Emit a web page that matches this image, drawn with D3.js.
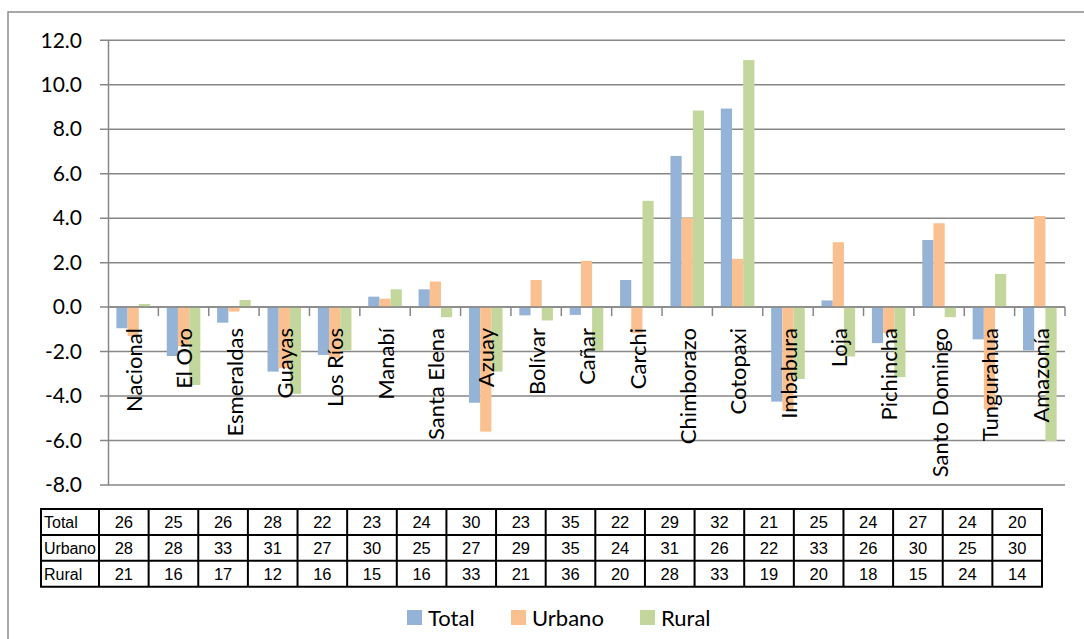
<!DOCTYPE html>
<html><head><meta charset="utf-8">
<script src="https://cdn.jsdelivr.net/npm/d3@7"></script>
<style>body{margin:0;background:#fff}svg{display:block}</style>
</head><body><svg id="c" width="1084" height="639"></svg>
<script>
const categories = ["Nacional","El Oro","Esmeraldas","Guayas","Los Ríos","Manabí","Santa Elena","Azuay","Bolívar","Cañar","Carchi","Chimborazo","Cotopaxi","Imbabura","Loja","Pichincha","Santo Domingo","Tungurahua","Amazonía"];
const seriesNames = ["Total","Urbano","Rural"];
const totalValues  = [-0.95,-2.2,-0.7,-2.9,-2.15,0.47,0.8,-4.3,-0.37,-0.35,1.22,6.8,8.93,-4.25,0.3,-1.62,3.02,-1.45,-1.95];
const urbanoValues = [-1.3,-1.75,-0.2,-2.75,-2.3,0.38,1.15,-5.6,1.22,2.08,-1.17,4.02,2.17,-4.67,2.92,-1.17,3.77,-4.6,4.1];
const ruralValues  = [0.14,-3.5,0.32,-3.9,-1.95,0.8,-0.45,-2.9,-0.6,-1.97,4.78,8.84,11.11,-3.23,-2.22,-3.15,-0.45,1.49,-6.02];
const yTicks = [-8,-6,-4,-2,0,2,4,6,8,10,12];
const tableTotal  = [26,25,26,28,22,23,24,30,23,35,22,29,32,21,25,24,27,24,20];
const tableUrbano = [28,28,33,31,27,30,25,27,29,35,24,31,26,22,33,26,30,25,30];
const tableRural  = [21,16,17,12,16,15,16,33,21,36,20,28,33,19,20,18,15,24,14];
const colors = ["#95B3D7","#FAC090","#C3D69B"];

const svg = d3.select("#c");
const values = [totalValues, urbanoValues, ruralValues];
const L = 108, R = 1065, T = 40.3, B = 485;
const gray = "#878787";

// outer border
svg.append("rect").attr("x",8).attr("y",12).attr("width",1090).attr("height",640)
  .attr("fill","none").attr("stroke","#8c8c8c").attr("stroke-width",1.5);

const x = d3.scaleBand().domain(categories).range([L,R]).paddingInner(0.333).paddingOuter(0.1665);
const x1 = d3.scaleBand().domain(seriesNames).range([0,x.bandwidth()]);
const y = d3.scaleLinear().domain([-8,12]).range([B,T]);

// gridlines
svg.append("g").selectAll("line").data(yTicks).join("line")
  .attr("x1",L-8).attr("x2",R).attr("y1",d=>y(d)).attr("y2",d=>y(d))
  .attr("stroke",gray).attr("stroke-width",1.5);

// y axis
const ya = svg.append("g").attr("transform",`translate(${L},0)`)
  .call(d3.axisLeft(y).tickValues(yTicks).tickFormat(d=>d.toFixed(1)).tickSize(0).tickPadding(26));
ya.select(".domain").attr("stroke",gray).attr("stroke-width",1.5);
ya.selectAll("text").attr("font-family","Lato, sans-serif").attr("font-size",21).attr("fill","#000");

// bars
const gCat = svg.append("g").selectAll("g").data(categories).join("g")
  .attr("transform",d=>`translate(${x(d)},0)`);
gCat.selectAll("rect").data((d,i)=>seriesNames.map((s,k)=>({s,v:values[k][i],k}))).join("rect")
  .attr("x",d=>x1(d.s)).attr("width",x1.bandwidth())
  .attr("y",d=>y(Math.max(0,d.v))).attr("height",d=>Math.abs(y(d.v)-y(0)))
  .attr("fill",d=>colors[d.k]);

// zero axis line with ticks
svg.append("line").attr("x1",L).attr("x2",R).attr("y1",y(0)).attr("y2",y(0))
  .attr("stroke",gray).attr("stroke-width",1.5);
const step = x.step();
const bounds = d3.range(categories.length+1).map(i => i<categories.length ? x(categories[i]) - (step - x.bandwidth())/2 : R);
svg.append("g").selectAll("line").data(bounds.slice(1)).join("line")
  .attr("x1",d=>d).attr("x2",d=>d).attr("y1",y(0)).attr("y2",y(0)+9)
  .attr("stroke",gray).attr("stroke-width",1.5);

// category labels
svg.append("g").selectAll("text").data(categories).join("text")
  .attr("transform",d=>`translate(${x(d)+x.bandwidth()/2+1},328) rotate(-90)`)
  .attr("text-anchor","end").attr("dy","0.35em")
  .attr("font-family","Lato, sans-serif").attr("font-size",22).attr("fill","#000")
  .text(d=>d);

// data table
const tL = 41, tH = 99, tR = 1042, tT = 509, rowH = 25.9;
const tx = d3.scaleBand().domain(categories).range([tH,tR]);
const rows = [["Total",tableTotal],["Urbano",tableUrbano],["Rural",tableRural]];
const tg = svg.append("g");
rows.forEach((r,i)=>{
  const yy = tT + i*rowH;
  tg.append("text").attr("x",tL+3).attr("y",yy+rowH/2).attr("dy","0.36em")
    .attr("font-family","Liberation Sans, Arial, sans-serif").attr("font-size",16).attr("textLength", r[0]==="Urbano"?52:null).text(r[0]);
  tg.selectAll(null).data(r[1]).join("text")
    .attr("x",(d,j)=>tx(categories[j])+tx.bandwidth()/2).attr("y",yy+rowH/2).attr("dy","0.36em")
    .attr("text-anchor","middle")
    .attr("font-family","Liberation Sans, Arial, sans-serif").attr("font-size",16.5).text(d=>d);
});
d3.range(4).forEach(i=>{
  tg.append("line").attr("x1",tL-1).attr("x2",tR+1).attr("y1",tT+i*rowH).attr("y2",tT+i*rowH)
    .attr("stroke","#000").attr("stroke-width",2);
});
[tL, tH, ...categories.map(c=>tx(c)+tx.bandwidth())].forEach(xx=>{
  tg.append("line").attr("x1",xx).attr("x2",xx).attr("y1",tT).attr("y2",tT+3*rowH)
    .attr("stroke","#000").attr("stroke-width",2);
});

// legend
const legX = [407, 511, 640];
const lg = svg.append("g");
seriesNames.forEach((s,i)=>{
  lg.append("rect").attr("x",legX[i]).attr("y",610).attr("width",15).attr("height",15).attr("fill",colors[i]);
  lg.append("text").attr("x",legX[i]+21).attr("y",618).attr("dy","0.36em")
    .attr("font-family","Lato, sans-serif").attr("font-size",22).attr("fill","#000").text(s);
});
</script></body></html>
